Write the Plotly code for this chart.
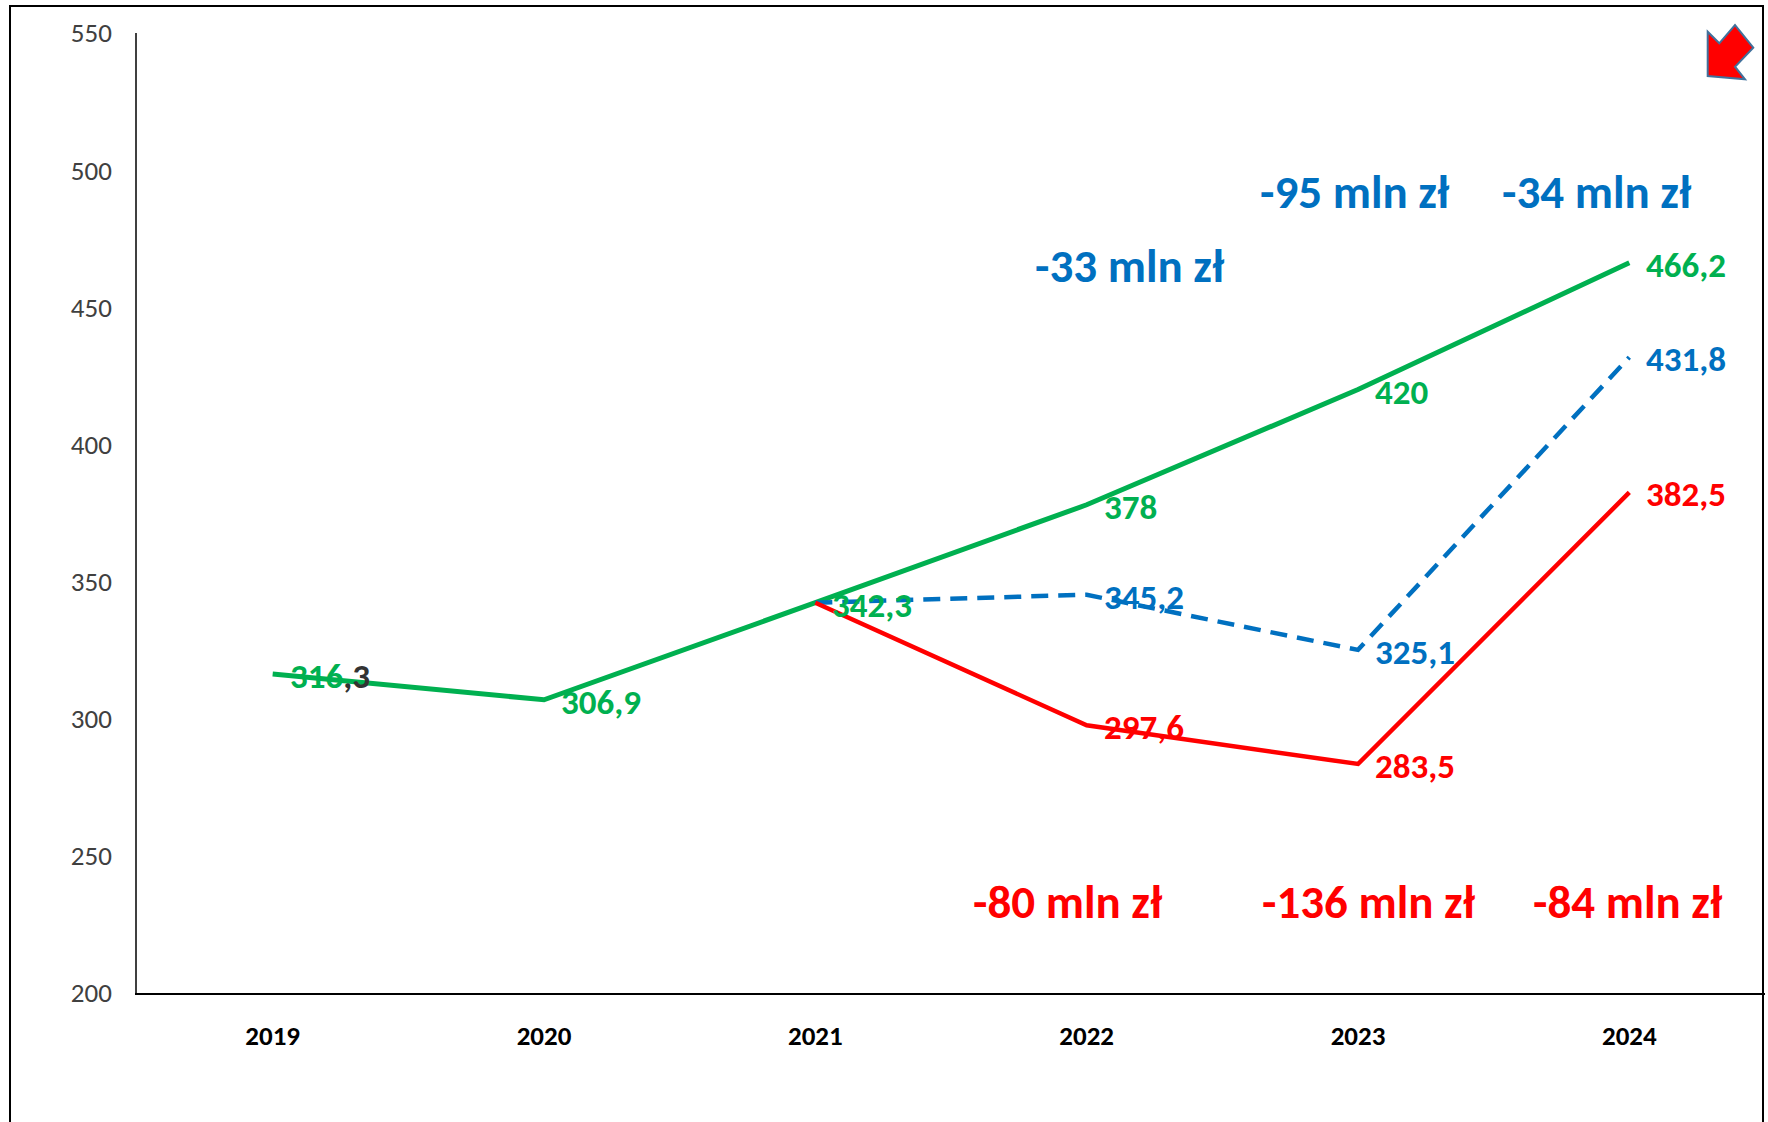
import plotly.graph_objects as go

# data
years = ["2019", "2020", "2021", "2022", "2023", "2024"]
plan_values = [316.3, 306.9, 342.3, 378, 420, 466.2]          # green
mid_years = ["2021", "2022", "2023", "2024"]
mid_values = [342.3, 345.2, 325.1, 431.8]                     # blue dashed
low_values = [342.3, 297.6, 283.5, 382.5]                     # red

plan_labels = ["316,3", "306,9", "342,3", "378", "420", "466,2"]
mid_labels = ["", "345,2", "325,1", "431,8"]
low_labels = ["", "297,6", "283,5", "382,5"]

blue_gaps = ["-33 mln zł", "-95 mln zł", "-34 mln zł"]
blue_gap_x = [3.16, 3.99, 4.88]
blue_gap_y = [465, 492, 492]
red_gaps = ["-80 mln zł", "-136 mln zł", "-84 mln zł"]
red_gap_x = [2.93, 4.04, 4.995]
red_gap_y = [233, 233, 233]

GREEN = "#00B050"
BLUE = "#0070C0"
RED = "#FF0000"
FONT = "Calibri, Carlito, Lato, sans-serif"

W, H = 1768, 1122
L, R, T, B = 137, 3, 33, 129


def px_to_paper(px, py):
    return (px - L) / (W - L - R), (H - B - py) / (H - T - B)


fig = go.Figure()
fig.add_trace(go.Scatter(x=years, y=plan_values, mode="lines",
                         line=dict(color=GREEN, width=5), hoverinfo="skip"))
fig.add_trace(go.Scatter(x=mid_years, y=mid_values, mode="lines",
                         line=dict(color=BLUE, width=4.5, dash="17px,10px"), hoverinfo="skip"))
fig.add_trace(go.Scatter(x=mid_years, y=low_values, mode="lines",
                         line=dict(color=RED, width=4.5), hoverinfo="skip"))

label_font = dict(family=FONT, size=35, weight="bold")
annotations = []
for xs, ys, labels, color in [(years, plan_values, plan_labels, GREEN),
                              (mid_years, mid_values, mid_labels, BLUE),
                              (mid_years, low_values, low_labels, RED)]:
    for x, y, t in zip(xs, ys, labels):
        if not t:
            continue
        if t == "316,3":
            # the first label shows its decimals in dark grey
            t = "316<span style='color:#333333'>,3</span>"
        # category axis: annotations take the category's serial number
        annotations.append(dict(x=years.index(x), y=y, text=t, showarrow=False,
                                xanchor="left", yanchor="middle", xshift=15, yshift=-2,
                                font=dict(label_font, color=color)))

gap_font = dict(family=FONT, size=47, weight="bold")
for t, x, y in zip(blue_gaps, blue_gap_x, blue_gap_y):
    annotations.append(dict(x=x, y=y, text=t, showarrow=False, font=dict(gap_font, color=BLUE)))
for t, x, y in zip(red_gaps, red_gap_x, red_gap_y):
    annotations.append(dict(x=x, y=y, text=t, showarrow=False, font=dict(gap_font, color=RED)))

# red arrow in the top-right corner
arrow_px = [(1707.7, 31.7), (1707.7, 76), (1745, 79.3), (1735, 66.7),
            (1753.3, 47.7), (1735, 25), (1719.3, 43.3)]
pts = [px_to_paper(*p) for p in arrow_px]
path = "M " + " L ".join(f"{a:.5f},{b:.5f}" for a, b in pts) + " Z"

bx0, by0 = px_to_paper(10, 6)
bx1, by1 = px_to_paper(1763, 1140)

fig.update_layout(
    width=W, height=H,
    margin=dict(l=L, r=R, t=T, b=B),
    paper_bgcolor="white", plot_bgcolor="white",
    showlegend=False,
    annotations=annotations,
    shapes=[
        dict(type="path", xref="paper", yref="paper", path=path,
             fillcolor=RED, line=dict(color="#41719C", width=2), layer="above"),
        dict(type="rect", xref="paper", yref="paper", x0=bx0, y0=by0, x1=bx1, y1=by1,
             line=dict(color="black", width=2), fillcolor="rgba(0,0,0,0)", layer="above"),
    ],
)
fig.update_xaxes(type="category", range=[-0.5, 5.5], showline=True, linecolor="black",
                 linewidth=1.5, showgrid=False, zeroline=False, ticks="",
                 tickfont=dict(family=FONT, size=27, color="black", weight="bold"),
                 ticklabelstandoff=18)
fig.update_yaxes(range=[200, 550], tickvals=[200, 250, 300, 350, 400, 450, 500, 550],
                 showline=True, linecolor="#404040", linewidth=1.5, showgrid=False,
                 zeroline=False, ticks="",
                 tickfont=dict(family=FONT, size=27, color="#404040"),
                 ticklabelstandoff=18)

# drop the browser's default page margin so the figure sits at the window corner
fig.write_html("out.html", config={"displayModeBar": False},
               post_script="document.body.style.margin='0';")
